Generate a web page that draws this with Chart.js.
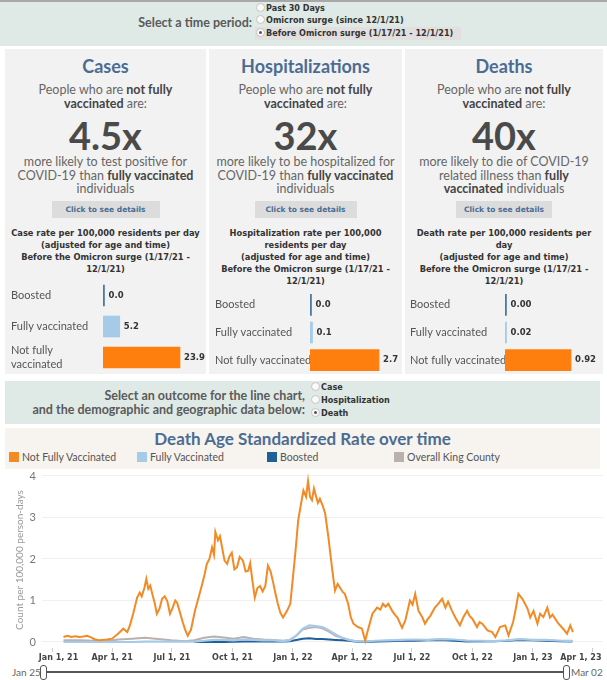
<!DOCTYPE html>
<html><head><meta charset="utf-8">
<script src="https://cdn.jsdelivr.net/npm/chart.js@4.4.0/dist/chart.umd.min.js"></script>
<style>
body{margin:0;width:607px;height:680px;overflow:hidden;background:#fff;font-family:Lato,"Open Sans",sans-serif;position:relative}
.abs{position:absolute}
.band{position:absolute;background:#dfe9e6}
.radio{position:absolute;width:7px;height:7px;border:1px solid #c4c4c4;border-radius:50%;background:#fafafa}
.radio.on::after{content:"";position:absolute;left:2px;top:2px;width:3px;height:3px;border-radius:50%;background:#555}
.opt{position:absolute;font:bold 8.1px "DejaVu Sans";color:#333;white-space:nowrap;line-height:12px}
.lbl{position:absolute;font:bold 12.5px Lato;color:#5a5a5a;text-align:right;white-space:nowrap}
.panel{position:absolute;top:49px;height:325px;background:#f2f2f2}
.panel .c{position:absolute;left:0;right:0;text-align:center;white-space:nowrap}
.t1{top:6px;font:700 18px Lato;line-height:22px;color:#4b6c93}
.intro{top:34px;font-size:12.5px;line-height:14px;color:#666}
.intro b,.desc b{color:#444}
.big{top:64px;font:700 38px Lato;line-height:44px;color:#4a4a4a}
.desc{top:106px;font-size:12.5px;line-height:13.5px;color:#666}
.btn{top:152px;height:17px}
.btn span{display:block;margin:0 auto;height:17px;background:#dcdcdc;font:bold 7.5px "DejaVu Sans";line-height:17px;color:#4b6c93}
.rate{top:178px;font:bold 8.3px "DejaVu Sans";line-height:12px;color:#333}
.leg{position:absolute;top:452px;font:10.5px Lato;line-height:11px;color:#555;white-space:nowrap}
.leg i{display:inline-block;width:10px;height:10px;vertical-align:-1px;margin-right:3px}
</style></head><body>

<!-- time period selector -->
<div class="band" style="left:0;top:0;width:607px;height:44px;border-top:2px solid #a8a8a8"></div>
<div class="lbl" style="right:355px;top:15px">Select a time period:</div>
<div class="abs" style="left:255px;top:27px;width:206px;height:13px;background:#e3dfdf"></div>
<div class="radio" style="left:256px;top:3px"></div>
<div class="radio" style="left:256px;top:15px"></div>
<div class="radio on" style="left:256px;top:28px"></div>
<div class="opt" style="left:266px;top:2px">Past 30 Days</div>
<div class="opt" style="left:266px;top:14px">Omicron surge (since 12/1/21)</div>
<div class="opt" style="left:266px;top:27px">Before Omicron surge (1/17/21 - 12/1/21)</div>

<!-- panels -->
<div class="panel" style="left:5px;width:201px">
  <div class="c t1">Cases</div>
  <div class="c intro">People who are <b>not fully</b><br><b>vaccinated</b> are:</div>
  <div class="c big">4.5x</div>
  <div class="c desc">more likely to test positive for<br>COVID-19 than <b>fully vaccinated</b><br>individuals</div>
  <div class="c btn"><span style="width:108px">Click to see details</span></div>
  <div class="c rate">Case rate per 100,000 residents per day<br>(adjusted for age and time)<br>Before the Omicron surge (1/17/21 -<br>12/1/21)</div>
</div>
<div class="panel" style="left:209px;width:193px">
  <div class="c t1">Hospitalizations</div>
  <div class="c intro">People who are <b>not fully</b><br><b>vaccinated</b> are:</div>
  <div class="c big">32x</div>
  <div class="c desc">more likely to be hospitalized for<br>COVID-19 than <b>fully vaccinated</b><br>individuals</div>
  <div class="c btn"><span style="width:102px">Click to see details</span></div>
  <div class="c rate">Hospitalization rate per 100,000<br>residents per day<br>(adjusted for age and time)<br>Before the Omicron surge (1/17/21 -<br>12/1/21)</div>
</div>
<div class="panel" style="left:405px;width:198px">
  <div class="c t1">Deaths</div>
  <div class="c intro">People who are <b>not fully</b><br><b>vaccinated</b> are:</div>
  <div class="c big">40x</div>
  <div class="c desc">more likely to die of COVID-19<br>related illness than <b>fully</b><br><b>vaccinated</b> individuals</div>
  <div class="c btn"><span style="width:96px">Click to see details</span></div>
  <div class="c rate">Death rate per 100,000 residents per<br>day<br>(adjusted for age and time)<br>Before the Omicron surge (1/17/21 -<br>12/1/21)</div>
</div>
<canvas id="bar1" class="abs" style="left:11px;top:280px" width="194" height="93"></canvas>
<canvas id="bar2" class="abs" style="left:215px;top:291px" width="186" height="83"></canvas>
<canvas id="bar3" class="abs" style="left:410px;top:291px" width="193" height="83"></canvas>

<!-- outcome selector -->
<div class="band" style="left:5px;top:381px;width:595px;height:43px"></div>
<div class="lbl" style="right:302px;top:389px;line-height:14px">Select an outcome for the line chart,<br>and the demographic and geographic data below:</div>
<div class="radio" style="left:311px;top:382px"></div>
<div class="radio" style="left:311px;top:395px"></div>
<div class="radio on" style="left:311px;top:408px"></div>
<div class="opt" style="left:321px;top:381px">Case</div>
<div class="opt" style="left:321px;top:394px">Hospitalization</div>
<div class="opt" style="left:321px;top:407px">Death</div>

<!-- line chart header -->
<div class="abs" style="left:5px;top:428px;width:595px;height:41px;background:#f7f3ef"></div>
<div class="abs" style="left:5px;width:595px;top:428px;text-align:center;font:700 17px Lato;line-height:22px;color:#4b6c93">Death Age Standardized Rate over time</div>
<div class="leg" style="left:9px"><i style="background:#f28a25"></i>Not Fully Vaccinated</div>
<div class="leg" style="left:137px"><i style="background:#a6cbe8"></i>Fully Vaccinated</div>
<div class="leg" style="left:267px"><i style="background:#1f5f9a"></i>Boosted</div>
<div class="leg" style="left:394px"><i style="background:#bab0ac"></i>Overall King County</div>

<canvas id="line" class="abs" style="left:0;top:468px" width="607" height="196"></canvas>

<!-- range slider -->
<div class="abs" style="left:12px;top:666px;font:10px Lato;color:#666">Jan 25</div>
<div class="abs" style="left:46px;top:671px;width:518px;height:2px;background:#555"></div>
<div class="abs" style="left:40px;top:665px;width:5px;height:13px;border:1px solid #555;border-radius:3px;background:#fff"></div>
<div class="abs" style="left:563px;top:665px;width:5px;height:13px;border:1px solid #555;border-radius:3px;background:#fff"></div>
<div class="abs" style="left:571px;top:666px;font:10px Lato;color:#666;white-space:nowrap">Mar 02</div>

<script>
// ---- bar panel data ----
const groups = ['Boosted', 'Fully vaccinated', 'Not fully vaccinated'];
const caseRate = [0.0, 5.2, 23.9];
const hospRate = [0.0, 0.1, 2.7];
const deathRate = [0.00, 0.02, 0.92];

// ---- line chart data (days since Jan 1, 2021) ----
const tickDays = [0, 90, 181, 273, 365, 455, 546, 638, 730, 820];
const tickLabels = ['Jan 1, 21','Apr 1, 21','Jul 1, 21','Oct 1, 21','Jan 1, 22','Apr 1, 22','Jul 1, 22','Oct 1, 22','Jan 1, 23','Apr 1, 23'];

const nfvDays = [16,22,28,34,40,46,52,58,64,70,76,82,90,99,107,113,117,122,128,132,135,139,142,145,148,151,155,158,162,166,170,174,178,182,186,189,193,197,201,205,
  210,216,222,227,231,234,238,242,245,247,251,254,257,261,265,268,272,276,280,284,289,293,297,300,303,307,311,315,319,323,327,331,335,338,342,346,350,356,361,365,369,373,377,381,385,388,391,394,397,399,403,406,410,414,419,425,429,
  433,437,441,444,449,453,457,464,470,475,479,486,493,498,502,506,510,516,520,524,531,536,543,547,551,556,562,566,570,574,581,586,592,597,601,607,612,619,624,630,634,638,
  645,649,653,661,668,673,680,688,693,700,704,708,714,718,722,726,731,737,741,746,752,756,760,764,769,776,782,787,791];
const nfvRate = [0.12,0.15,0.12,0.14,0.12,0.13,0.15,0.11,0.06,0.04,0.05,0.06,0.08,0.2,0.32,0.24,0.4,0.68,1.07,1.19,1.1,1.3,1.52,1.28,1.36,1.16,0.92,0.68,0.8,1.04,1.1,0.98,0.68,0.82,1.0,0.94,0.72,0.5,0.3,0.15,
  0.3,0.75,1.1,1.4,1.65,1.88,2.0,2.28,2.1,2.65,2.45,2.55,2.3,1.96,1.88,2.05,2.15,1.75,1.8,2.05,1.96,1.7,1.72,1.9,1.52,1.07,1.3,1.35,1.22,1.35,1.84,1.7,1.43,1.2,0.92,0.7,0.59,0.75,0.92,1.55,2.2,2.93,3.3,3.65,3.5,3.88,3.5,3.42,3.7,3.58,3.35,3.45,3.3,3.1,2.52,1.72,1.24,
  1.4,1.3,1.2,1.16,0.92,0.6,0.44,0.36,0.32,0.03,0.28,0.68,0.83,0.78,0.92,0.85,0.92,0.75,0.66,0.59,0.34,0.52,1.0,0.9,1.16,0.75,0.59,0.44,0.55,0.63,0.83,0.92,1.04,0.83,0.97,0.75,0.59,0.4,0.59,0.75,0.62,0.56,
  0.36,0.48,0.44,0.28,0.24,0.12,0.36,0.4,0.16,0.48,0.8,1.16,1.04,0.92,0.8,0.59,0.75,0.44,0.68,0.6,0.83,0.59,0.66,0.56,0.44,0.32,0.2,0.4,0.24];

const minorDays = [16,40,60,80,100,120,140,160,180,200,215,230,245,260,275,290,305,320,335,350,360,370,380,390,400,410,420,430,440,450,460,475,490,510,530,550,570,590,610,630,650,670,690,710,730,750,770,790];
const fvRate = [0,0,0,0,0,0,0.01,0.01,0.01,0.01,0.01,0.03,0.05,0.05,0.04,0.06,0.05,0.04,0.04,0.02,0.04,0.15,0.32,0.4,0.38,0.36,0.28,0.18,0.1,0.05,0.02,0.01,0.03,0.04,0.05,0.06,0.05,0.07,0.06,0.03,0.03,0.02,0.04,0.07,0.05,0.05,0.03,0.02];
const boostRate = [null,null,null,null,null,null,null,null,null,null,0,0,0,0,0.005,0.01,0.01,0.01,0.01,0.01,0.02,0.05,0.08,0.09,0.07,0.07,0.06,0.05,0.04,0.03,0.01,0,0.01,0.02,0.03,0.03,0.04,0.05,0.03,0.01,0.02,0.02,0.03,0.05,0.04,0.03,0.02,0.01];
const kcRate = [0.04,0.04,0.03,0.02,0.06,0.08,0.1,0.07,0.04,0.02,0.04,0.1,0.13,0.11,0.08,0.12,0.08,0.06,0.05,0.03,0.05,0.15,0.3,0.34,0.36,0.33,0.25,0.15,0.1,0.05,0.02,0.01,0.02,0.03,0.03,0.04,0.05,0.06,0.05,0.03,0.02,0.02,0.03,0.06,0.04,0.04,0.03,0.03];

const barColors = ['#4e79a7', '#a6cbe8', '#ff7f0e'];

function valueLabels(values, dec) {
  return {
    id: 'valueLabels',
    afterDatasetsDraw(chart) {
      const ctx = chart.ctx, meta = chart.getDatasetMeta(0);
      ctx.save();
      ctx.font = 'bold 8.5px "DejaVu Sans"';
      ctx.fillStyle = '#333';
      ctx.textBaseline = 'middle';
      meta.data.forEach((bar, i) => ctx.fillText(values[i].toFixed(dec), bar.x + 4, bar.y));
      ctx.restore();
    }
  };
}

function barChart(id, labels, values, dec, max, axisW) {
  new Chart(document.getElementById(id), {
    type: 'bar',
    data: { labels, datasets: [{ data: values, backgroundColor: barColors, barThickness: 21, minBarLength: 1.5 }] },
    options: {
      indexAxis: 'y', responsive: false, animation: false, events: [],
      plugins: { legend: { display: false }, tooltip: { enabled: false } },
      layout: { padding: 0 },
      scales: {
        x: { display: false, min: 0, max },
        y: { grid: { display: false }, border: { display: false },
             ticks: { crossAlign: 'far', color: '#555', font: { family: 'Lato', size: 11 }, padding: 0 },
             afterFit(s) { s.width = axisW; s.paddingTop = 0; s.paddingBottom = 0; } }
      }
    },
    plugins: [valueLabels(values, dec)]
  });
}
barChart('bar1', ['Boosted', 'Fully vaccinated', ['Not fully', 'vaccinated']], caseRate, 1, 31.66, 92);
barChart('bar2', groups, hospRate, 1, 3.56, 95);
barChart('bar3', groups, deathRate, 2, 1.366, 95);

const pts = (xs, ys) => xs.map((x, i) => ({ x, y: ys[i] }));
new Chart(document.getElementById('line'), {
  type: 'line',
  data: { datasets: [
    { label: 'Not Fully Vaccinated', data: pts(nfvDays, nfvRate), borderColor: '#f28a25', borderWidth: 2 },
    { label: 'Fully Vaccinated', data: pts(minorDays, fvRate), borderColor: '#a6cbe8', borderWidth: 2.2 },
    { label: 'Boosted', data: pts(minorDays, boostRate), borderColor: '#1f5f9a', borderWidth: 2 },
    { label: 'Overall King County', data: pts(minorDays, kcRate), borderColor: '#bab0ac', borderWidth: 2 }
  ] },
  options: {
    responsive: false, animation: false, events: [],
    elements: { point: { radius: 0 }, line: { tension: 0 } },
    plugins: { legend: { display: false }, tooltip: { enabled: false } },
    layout: { padding: { top: 4, right: 4, left: 0, bottom: 0 } },
    scales: {
      x: { type: 'linear', min: -16.7, max: 836.7,
           grid: { drawOnChartArea: false, drawTicks: true, tickLength: 4, color: '#cfcfcf' },
           border: { display: false },
           afterBuildTicks(s) { s.ticks = tickDays.map(v => ({ value: v })); },
           afterFit(s) { s.paddingLeft = 0; s.paddingRight = 0; s.height = 16; },
           ticks: { maxRotation: 0, autoSkip: false, padding: 1, color: '#444', font: { family: 'DejaVu Sans', size: 8, weight: 'bold' },
                    callback(v) {
                      const i = tickDays.indexOf(v);
                      if (i === 0) return '    ' + tickLabels[i];
                      if (i === tickDays.length - 1) return tickLabels[i] + '        ';
                      return tickLabels[i];
                    } } },
      y: { min: -0.145, max: 4.096,
           afterBuildTicks(s) { s.ticks = [0, 1, 2, 3, 4].map(v => ({ value: v })); },
           afterFit(s) { s.width = 42; s.paddingTop = 0; s.paddingBottom = 0; },
           grid: { color: '#f0f0f0', drawTicks: false },
           border: { display: false },
           ticks: { padding: 6, color: '#777', font: { family: 'Lato', size: 11 } },
           title: { display: true, text: 'Count per 100,000 person-days', color: '#999', font: { family: 'Lato', size: 10 }, padding: { top: 14, bottom: 0 } } }
    }
  }
});
</script>
</body></html>
